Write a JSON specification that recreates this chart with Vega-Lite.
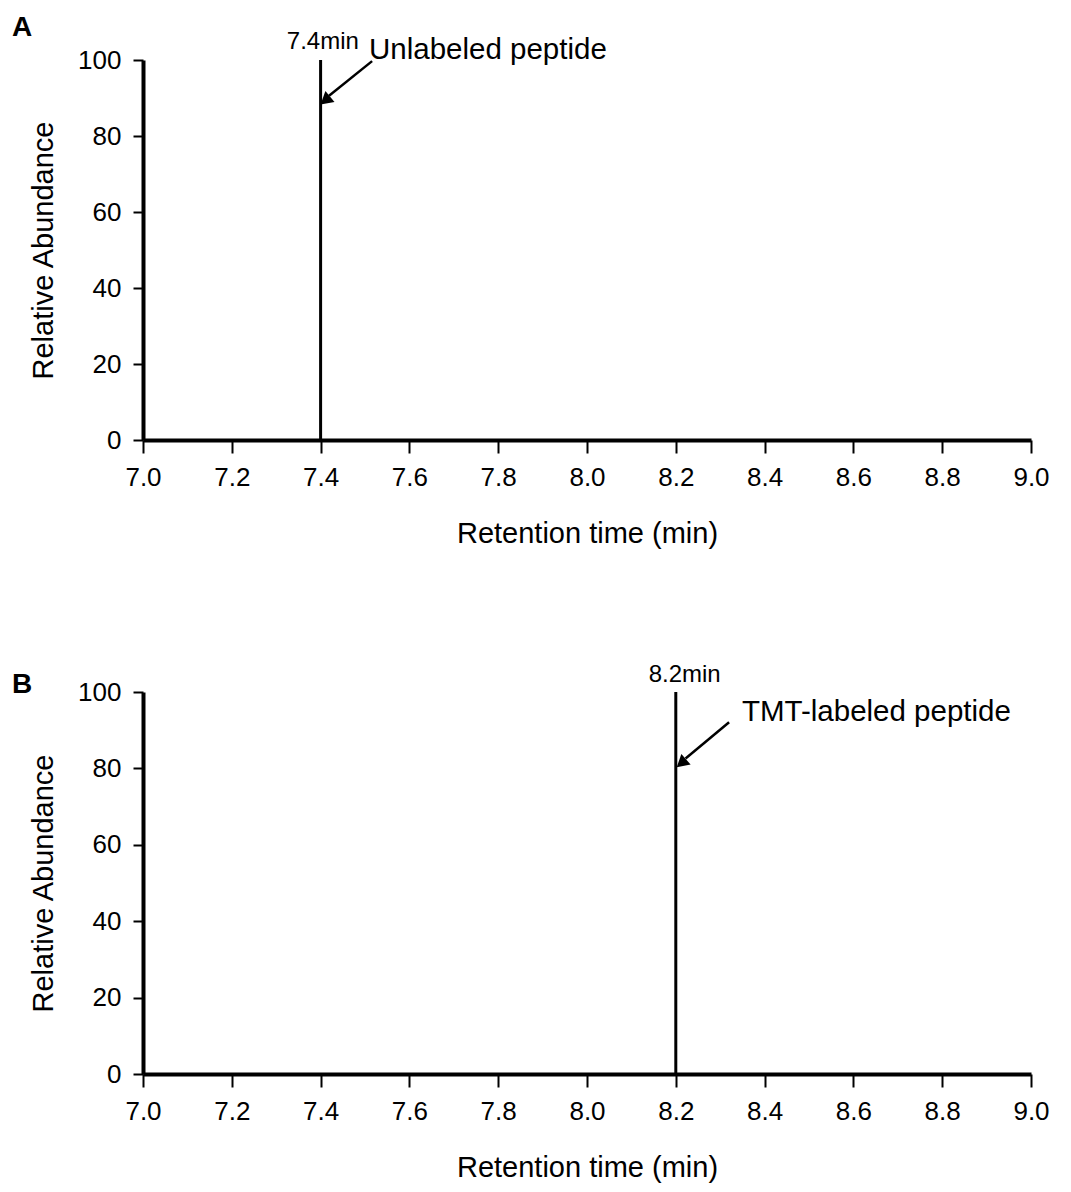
{
  "$schema": "https://vega.github.io/schema/vega-lite/v6.json",
  "background": "white",
  "padding": {"left": 12, "top": 13, "right": 5, "bottom": 5},
  "spacing": 114,
  "config": {
    "font": "Liberation Sans",
    "view": {"stroke": null},
    "axis": {
      "grid": false,
      "domainColor": "black",
      "domainWidth": 4,
      "tickColor": "black",
      "tickWidth": 2,
      "labelColor": "black",
      "labelFontSize": 26,
      "labelFont": "Liberation Sans",
      "labelFlush": false,
      "titleFont": "Liberation Sans",
      "titleFontSize": 29,
      "titleFontWeight": "normal",
      "titleColor": "black"
    },
    "axisX": {"tickSize": 13, "labelPadding": 11, "titlePadding": 29},
    "axisY": {"tickSize": 10, "labelPadding": 12, "titlePadding": 19}
  },
  "datasets": {
    "peaksA": [{"time": 7.4, "lo": 0, "hi": 100, "label": "7.4min", "lx": 7.405, "ly": 104.8}],
    "peaksB": [{"time": 8.2, "lo": 0, "hi": 100, "label": "8.2min", "lx": 8.22, "ly": 104.5}],
    "arrowA": [{"x1": 7.516, "y1": 99.7, "x2": 7.419, "y2": 90.6, "tipx": 7.414, "tipy": 89.7, "note": "Unlabeled peptide", "nx": 7.509, "ny": 102.7}],
    "arrowB": [{"x1": 8.32, "y1": 92.1, "x2": 8.222, "y2": 82.6, "tipx": 8.216, "tipy": 81.7, "note": "TMT-labeled peptide", "nx": 8.349, "ny": 94.7}]
  },
  "vconcat": [
    {
      "width": 888,
      "height": 380,
      "title": {"text": "A", "anchor": "start", "frame": "group", "dx": -131, "offset": -34, "baseline": "alphabetic", "fontSize": 28, "fontWeight": "bold", "color": "black", "font": "Liberation Sans"},
      "layer": [
        {
          "data": {"name": "peaksA"},
          "mark": {"type": "rule", "color": "black", "strokeWidth": 3},
          "encoding": {
            "x": {"field": "time", "type": "quantitative", "scale": {"domain": [7, 9], "nice": false},
                  "axis": {"values": [7.0, 7.2, 7.4, 7.6, 7.8, 8.0, 8.2, 8.4, 8.6, 8.8, 9.0], "format": ".1f", "title": "Retention time (min)"}},
            "y": {"field": "lo", "type": "quantitative", "scale": {"domain": [0, 100], "nice": false},
                  "axis": {"values": [0, 20, 40, 60, 80, 100], "title": "Relative Abundance"}},
            "y2": {"field": "hi"}
          }
        },
        {
          "data": {"name": "peaksA"},
          "mark": {"type": "text", "fontSize": 24, "baseline": "middle", "color": "black"},
          "encoding": {
            "x": {"field": "lx", "type": "quantitative"},
            "y": {"field": "ly", "type": "quantitative"},
            "text": {"field": "label"}
          }
        },
        {
          "data": {"name": "arrowA"},
          "mark": {"type": "rule", "color": "black", "strokeWidth": 2.5},
          "encoding": {
            "x": {"field": "x1", "type": "quantitative"},
            "y": {"field": "y1", "type": "quantitative"},
            "x2": {"field": "x2"},
            "y2": {"field": "y2"}
          }
        },
        {
          "data": {"name": "arrowA"},
          "mark": {"type": "point", "shape": "triangle", "filled": true, "color": "black", "opacity": 1, "size": 200, "angle": 230},
          "encoding": {
            "x": {"field": "tipx", "type": "quantitative"},
            "y": {"field": "tipy", "type": "quantitative"}
          }
        },
        {
          "data": {"name": "arrowA"},
          "mark": {"type": "text", "fontSize": 29.5, "align": "left", "baseline": "middle", "color": "black"},
          "encoding": {
            "x": {"field": "nx", "type": "quantitative"},
            "y": {"field": "ny", "type": "quantitative"},
            "text": {"field": "note"}
          }
        }
      ]
    },
    {
      "width": 888,
      "height": 382,
      "title": {"text": "B", "anchor": "start", "frame": "group", "dx": -131, "offset": -58, "baseline": "alphabetic", "fontSize": 28, "fontWeight": "bold", "color": "black", "font": "Liberation Sans"},
      "layer": [
        {
          "data": {"name": "peaksB"},
          "mark": {"type": "rule", "color": "black", "strokeWidth": 3},
          "encoding": {
            "x": {"field": "time", "type": "quantitative", "scale": {"domain": [7, 9], "nice": false},
                  "axis": {"values": [7.0, 7.2, 7.4, 7.6, 7.8, 8.0, 8.2, 8.4, 8.6, 8.8, 9.0], "format": ".1f", "title": "Retention time (min)"}},
            "y": {"field": "lo", "type": "quantitative", "scale": {"domain": [0, 100], "nice": false},
                  "axis": {"values": [0, 20, 40, 60, 80, 100], "title": "Relative Abundance"}},
            "y2": {"field": "hi"}
          }
        },
        {
          "data": {"name": "peaksB"},
          "mark": {"type": "text", "fontSize": 24, "baseline": "middle", "color": "black"},
          "encoding": {
            "x": {"field": "lx", "type": "quantitative"},
            "y": {"field": "ly", "type": "quantitative"},
            "text": {"field": "label"}
          }
        },
        {
          "data": {"name": "arrowB"},
          "mark": {"type": "rule", "color": "black", "strokeWidth": 2.5},
          "encoding": {
            "x": {"field": "x1", "type": "quantitative"},
            "y": {"field": "y1", "type": "quantitative"},
            "x2": {"field": "x2"},
            "y2": {"field": "y2"}
          }
        },
        {
          "data": {"name": "arrowB"},
          "mark": {"type": "point", "shape": "triangle", "filled": true, "color": "black", "opacity": 1, "size": 200, "angle": 229},
          "encoding": {
            "x": {"field": "tipx", "type": "quantitative"},
            "y": {"field": "tipy", "type": "quantitative"}
          }
        },
        {
          "data": {"name": "arrowB"},
          "mark": {"type": "text", "fontSize": 29.5, "align": "left", "baseline": "middle", "color": "black"},
          "encoding": {
            "x": {"field": "nx", "type": "quantitative"},
            "y": {"field": "ny", "type": "quantitative"},
            "text": {"field": "note"}
          }
        }
      ]
    }
  ]
}
